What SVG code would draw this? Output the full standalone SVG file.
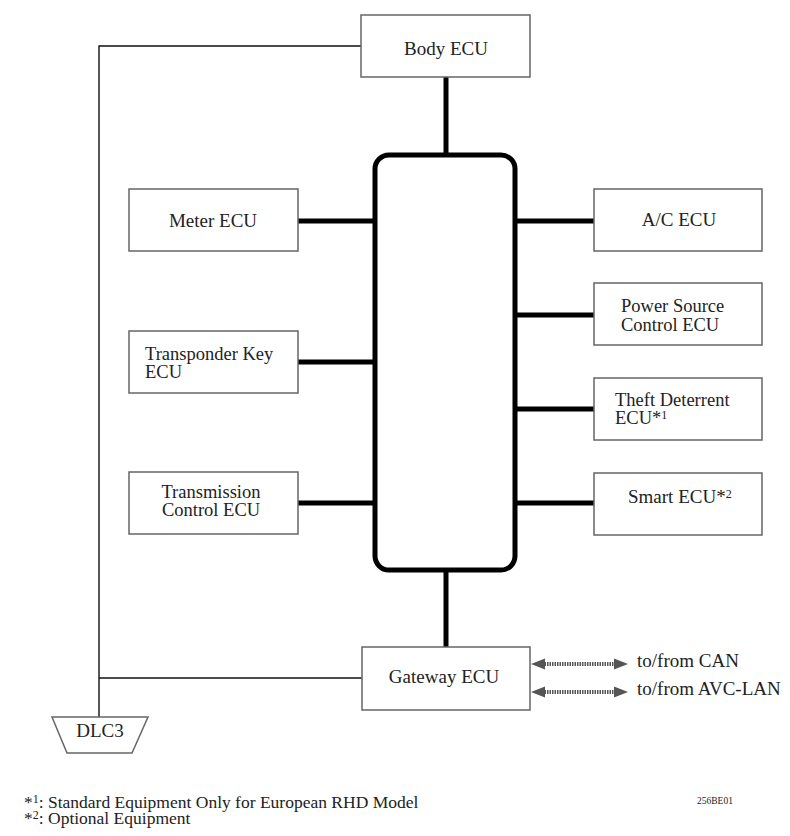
<svg xmlns="http://www.w3.org/2000/svg" width="790" height="836" viewBox="0 0 790 836" font-family="'Liberation Serif', 'Times New Roman', serif">
<style>
text{font-family:"Liberation Serif","Times New Roman",serif;fill:#222;font-size:19px}
.box{fill:#fff;stroke:#666;stroke-width:1.5}
.thin{stroke:#111;stroke-width:1.4;fill:none}
.thick{stroke:#000;stroke-width:5;fill:none}
.c{text-anchor:middle}
.two{font-size:18.5px}
.sup{font-size:12px}
.arr{stroke:#555;stroke-width:4;stroke-dasharray:1.5 1}
.head{fill:#555}
.note{font-size:17.5px}
</style>
<rect width="790" height="836" fill="#fff"/>
<g id="connectors">
<polyline class="thin" points="361,46 99,46 99,717"/>
<line class="thin" x1="99" y1="678" x2="362" y2="678"/>
<line class="thick" x1="446" y1="77" x2="446" y2="155"/>
<line class="thick" x1="446" y1="570" x2="446" y2="647"/>
<line class="thick" x1="298" y1="221" x2="375" y2="221"/>
<line class="thick" x1="298" y1="362" x2="375" y2="362"/>
<line class="thick" x1="298" y1="503" x2="375" y2="503"/>
<line class="thick" x1="515" y1="221" x2="594" y2="221"/>
<line class="thick" x1="515" y1="315" x2="594" y2="315"/>
<line class="thick" x1="515" y1="409" x2="594" y2="409"/>
<line class="thick" x1="515" y1="503" x2="594" y2="503"/>
<g id="arrow-can">
<line class="arr" x1="542" y1="664" x2="616" y2="664"/>
<polygon class="head" points="531,664 545,658.5 545,669.5"/>
<polygon class="head" points="628,664 614,658.5 614,669.5"/>
</g>
<g id="arrow-avc">
<line class="arr" x1="542" y1="692" x2="616" y2="692"/>
<polygon class="head" points="531,692 545,686.5 545,697.5"/>
<polygon class="head" points="628,692 614,686.5 614,697.5"/>
</g>
</g>
<g id="bus"><rect x="375" y="155" width="140" height="415" rx="14" fill="none" stroke="#000" stroke-width="5"/></g>
<g id="body-ecu"><rect class="box" x="361" y="15" width="169" height="62"/><text class="c" x="446" y="55">Body ECU</text></g>
<g id="meter-ecu"><rect class="box" x="129" y="189" width="169" height="62"/><text class="c" x="213" y="227">Meter ECU</text></g>
<g id="transponder-key-ecu"><rect class="box" x="129" y="331" width="169" height="62"/><text class="two" x="145" y="360">Transponder Key</text><text class="two" x="145" y="378">ECU</text></g>
<g id="transmission-control-ecu"><rect class="box" x="129" y="472" width="169" height="62"/><text class="c two" x="211" y="498">Transmission</text><text class="c two" x="211" y="516">Control ECU</text></g>
<g id="ac-ecu"><rect class="box" x="594" y="189" width="168" height="62"/><text class="c" x="679" y="226">A/C ECU</text></g>
<g id="power-source-control-ecu"><rect class="box" x="594" y="283" width="168" height="62"/><text class="two" x="621" y="312">Power Source</text><text class="two" x="621" y="331">Control ECU</text></g>
<g id="theft-deterrent-ecu"><rect class="box" x="594" y="378" width="168" height="62"/><text class="two" x="615" y="406">Theft Deterrent</text><text class="two" x="615" y="424">ECU*<tspan class="sup" dy="-5">1</tspan></text></g>
<g id="smart-ecu"><rect class="box" x="594" y="473" width="168" height="62"/><text x="628" y="503">Smart ECU*<tspan class="sup" dy="-5">2</tspan></text></g>
<g id="gateway-ecu"><rect class="box" x="362" y="647" width="168" height="63"/><text class="c" x="444" y="683">Gateway ECU</text></g>
<g id="dlc3"><polygon class="box" points="52,717 148,717 132,753 67,753"/><text class="c" x="100" y="737">DLC3</text></g>
<text x="637" y="667">to/from CAN</text>
<text x="637" y="695">to/from AVC-LAN</text>
<text class="note" x="24" y="808">*<tspan class="sup" dy="-5">1</tspan><tspan dy="5">: Standard Equipment Only for European RHD Model</tspan></text>
<text class="note" x="24" y="824">*<tspan class="sup" dy="-5">2</tspan><tspan dy="5">: Optional Equipment</tspan></text>
<text x="697" y="804" style="font-size:9.5px">256BE01</text>
</svg>
